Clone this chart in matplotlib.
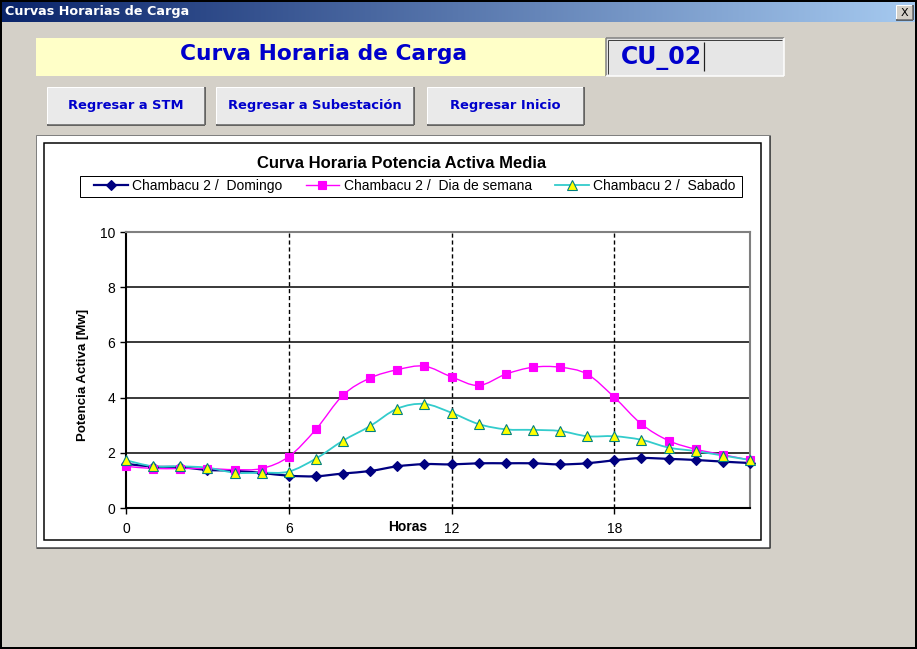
import numpy as np
import matplotlib
matplotlib.use("Agg")
import matplotlib.pyplot as plt
from matplotlib.patches import Rectangle, PathPatch
from matplotlib.path import Path
from matplotlib.lines import Line2D

# ---- data -------------------------------------------------------------
horas = list(range(24))
domingo = [1.60, 1.50, 1.48, 1.38, 1.35, 1.27, 1.17, 1.15, 1.25, 1.34, 1.51, 1.59,
           1.58, 1.62, 1.62, 1.62, 1.58, 1.62, 1.73, 1.81, 1.78, 1.74, 1.68, 1.63]
dia_semana = [1.51, 1.43, 1.43, 1.43, 1.39, 1.43, 1.86, 2.85, 4.09, 4.71, 5.01, 5.14,
              4.75, 4.44, 4.85, 5.10, 5.10, 4.85, 4.01, 3.04, 2.44, 2.13, 1.93, 1.74]
sabado = [1.73, 1.51, 1.51, 1.46, 1.28, 1.28, 1.32, 1.79, 2.44, 2.97, 3.60, 3.77,
          3.45, 3.04, 2.85, 2.83, 2.79, 2.60, 2.60, 2.47, 2.19, 2.06, 1.90, 1.74]
series_names = ["Chambacu 2 /  Domingo", "Chambacu 2 /  Dia de semana",
                "Chambacu 2 /  Sabado"]
x_ticks = [0, 6, 12, 18]
y_ticks = [0, 2, 4, 6, 8, 10]

W, H = 917, 649
FACE = "#D4D0C8"
BLUE_TXT = "#0000CC"
UI_FONT = "DejaVu Sans"
CHART_FONT = "Liberation Sans"

fig = plt.figure(figsize=(W / 100, H / 100), dpi=100, facecolor=FACE)

# ---- dialog chrome, drawn in pixel coordinates -------------------------
ui = fig.add_axes([0, 0, 1, 1], zorder=0)
ui.set_axis_off()
PX = 0.72  # one pixel in points


def box(x0, y0, x1, y1, fc, ec="none", lw=0.0, z=1):
    ui.add_patch(Rectangle((x0, y0), x1 - x0, y1 - y0, facecolor=fc,
                           edgecolor=ec, linewidth=lw, zorder=z))


def edge(x0, y0, x1, y1, c, lw=1.0, z=3):
    ui.plot([x0, x1], [y0, y1], color=c, lw=lw * PX, zorder=z,
            solid_capstyle="butt")


def raised(x0, y0, x1, y1, fc):
    box(x0, y0, x1, y1, fc)
    edge(x0, y0, x1, y0, "white")
    edge(x0, y0, x0, y1, "white")
    edge(x0, y1, x1, y1, "#404040", 1.5)
    edge(x1, y0, x1, y1, "#404040", 1.5)
    edge(x0 + 1, y1 - 1.5, x1 - 1.5, y1 - 1.5, "#808080")
    edge(x1 - 1.5, y0 + 1, x1 - 1.5, y1 - 1.5, "#808080")


# title bar gradient
grad = np.linspace(0, 1, 400)[None, :, None]
c0 = np.array([10, 36, 106]) / 255
c1 = np.array([166, 202, 240]) / 255
ui.imshow(c0 + (c1 - c0) * grad, extent=(1, W - 1, 22, 1), aspect="auto",
          zorder=1, interpolation="bilinear")
ui.text(5, 12, "Curvas Horarias de Carga", color="white", fontsize=9.2,
        fontweight="bold", family=UI_FONT, va="center", ha="left", zorder=4)
raised(896, 5, 913, 20, FACE)
ui.text(904.5, 12.5, "X", fontsize=8, family=UI_FONT, ha="center",
        va="center", color="black", zorder=4)

# window border
ui.add_patch(Rectangle((1, 1), W - 2, H - 2, facecolor="none",
                       edgecolor="black", linewidth=2 * PX, zorder=5))

# header label and code box
box(36, 38, 606, 76, "#FFFFC8")
ui.text(324, 54, "Curva Horaria de Carga", color=BLUE_TXT, fontsize=15.7,
        fontweight="bold", family=UI_FONT, ha="center", va="center", zorder=4)
box(606, 38, 784, 76, "#E6E6E6")
edge(606, 38, 784, 38, "#808080", 1.5)
edge(606, 38, 606, 76, "#808080", 1.5)
edge(608, 40, 782, 40, "#404040")
edge(608, 40, 608, 74, "#404040")
edge(606, 76, 784, 76, "white", 1.5)
edge(784, 38, 784, 76, "white", 1.5)
ui.text(621, 58, "CU_02", color=BLUE_TXT, fontsize=17, fontweight="bold",
        family=UI_FONT, ha="left", va="center", zorder=4)
edge(704, 42, 704, 71, "#202020", 1.2)

# navigation buttons
buttons = [("Regresar a STM", 47, 205), ("Regresar a Subestación", 216, 414),
           ("Regresar Inicio", 427, 584)]
for label, bx0, bx1 in buttons:
    raised(bx0, 87, bx1, 125, "#EAEAEA")
    ui.text((bx0 + bx1) / 2, 106, label, color=BLUE_TXT, fontsize=9.4,
            fontweight="bold", family=UI_FONT, ha="center", va="center",
            zorder=4)

# chart object frame
box(36, 135, 770, 548, "white", "#808080", PX)
edge(770, 136, 770, 548, "#404040", 1.5)
edge(37, 548, 770, 548, "#404040", 1.5)
box(44, 143, 761, 540, "white", "black", 1.5 * PX, z=2)
# legend border
box(80, 176, 742, 197, "white", "black", PX, z=3)

ui.set_xlim(0, W)
ui.set_ylim(H, 0)

# ---- the chart ---------------------------------------------------------
L, R, T, B = 126, 750, 232, 508
ax = fig.add_axes([L / W, (H - B) / H, (R - L) / W, (B - T) / H], zorder=2)
ax.set_facecolor("white")
ax.set_xlim(0, 23)
ax.set_ylim(0, 10)
ax.set_xticks(x_ticks)
ax.set_yticks(y_ticks)
ax.tick_params(axis="y", direction="out", length=4, width=1, pad=4,
               labelsize=10)
ax.tick_params(axis="x", direction="out", length=4, width=1, pad=6,
               labelsize=10)
for lab in ax.get_xticklabels() + ax.get_yticklabels():
    lab.set_family(CHART_FONT)

for s in ("left", "bottom"):
    ax.spines[s].set_color("black")
    ax.spines[s].set_linewidth(1.5)
for s in ("top", "right"):
    ax.spines[s].set_color("#808080")
    ax.spines[s].set_linewidth(1.5)

for yv in y_ticks[1:-1]:
    ax.axhline(yv, color="#383838", lw=1.4, zorder=1)
for xv in x_ticks[1:]:
    ax.axvline(xv, color="black", lw=1.0, ls=(0, (3, 2)), zorder=1)


def smooth_path(xs, ys):
    """Smoothed curve through the points (cubic Bezier segments)."""
    pts = np.column_stack([xs, ys]).astype(float)
    verts = [pts[0]]
    codes = [Path.MOVETO]
    n = len(pts)
    for i in range(n - 1):
        p0 = pts[i - 1] if i > 0 else pts[i]
        p1, p2 = pts[i], pts[i + 1]
        p3 = pts[i + 2] if i + 2 < n else pts[i + 1]
        verts += [p1 + (p2 - p0) / 6, p2 - (p3 - p1) / 6, p2]
        codes += [Path.CURVE4] * 3
    return Path(verts, codes)


styles = [
    dict(values=domingo, color="#000080", lw=1.6, marker="D", ms=5,
         mfc="#000080", mec="#000080"),
    dict(values=dia_semana, color="#FF00FF", lw=1.0, marker="s", ms=6,
         mfc="#FF00FF", mec="#FF00FF"),
    dict(values=sabado, color="#33CCCC", lw=1.3, marker="^", ms=7,
         mfc="#FFFF00", mec="#008080"),
]

handles = []
for st in styles:
    ax.add_patch(PathPatch(smooth_path(horas, st["values"]), facecolor="none",
                           edgecolor=st["color"], lw=st["lw"], zorder=3))
for st in styles:
    ax.plot(horas, st["values"], ls="none", marker=st["marker"], ms=st["ms"],
            mfc=st["mfc"], mec=st["mec"], mew=0.8, zorder=4, clip_on=False)
    handles.append(Line2D([], [], color=st["color"], lw=st["lw"],
                          marker=st["marker"], ms=st["ms"], mfc=st["mfc"],
                          mec=st["mec"], mew=0.8))

ax.set_xlabel("Horas", fontsize=10, fontweight="bold", family=CHART_FONT)
ax.xaxis.set_label_coords((408 - L) / (R - L), -(527 - B) / (B - T))
ax.xaxis.label.set_va("center")
ax.set_ylabel("Potencia Activa [Mw]", fontsize=9.5, fontweight="bold",
              family=CHART_FONT)
ax.yaxis.set_label_coords((83 - L) / (R - L), (B - 375) / (B - T))
ax.yaxis.label.set_va("center")

fig.text(402 / W, 1 - 164 / H, "Curva Horaria Potencia Activa Media",
         fontsize=12, fontweight="bold", family=CHART_FONT, ha="center",
         va="center", zorder=6)

leg = ax.legend(handles, series_names, loc="lower left", ncol=3,
                mode="expand",
                bbox_to_anchor=(90 / W, 1 - 197 / H, 650 / W, 21 / H),
                bbox_transform=fig.transFigure, borderaxespad=0,
                frameon=False, borderpad=0.3, handlelength=2.4,
                handletextpad=0.35, columnspacing=1.0, numpoints=1,
                prop={"family": CHART_FONT, "size": 10})

fig.savefig("out.png", dpi=100, facecolor=FACE)
